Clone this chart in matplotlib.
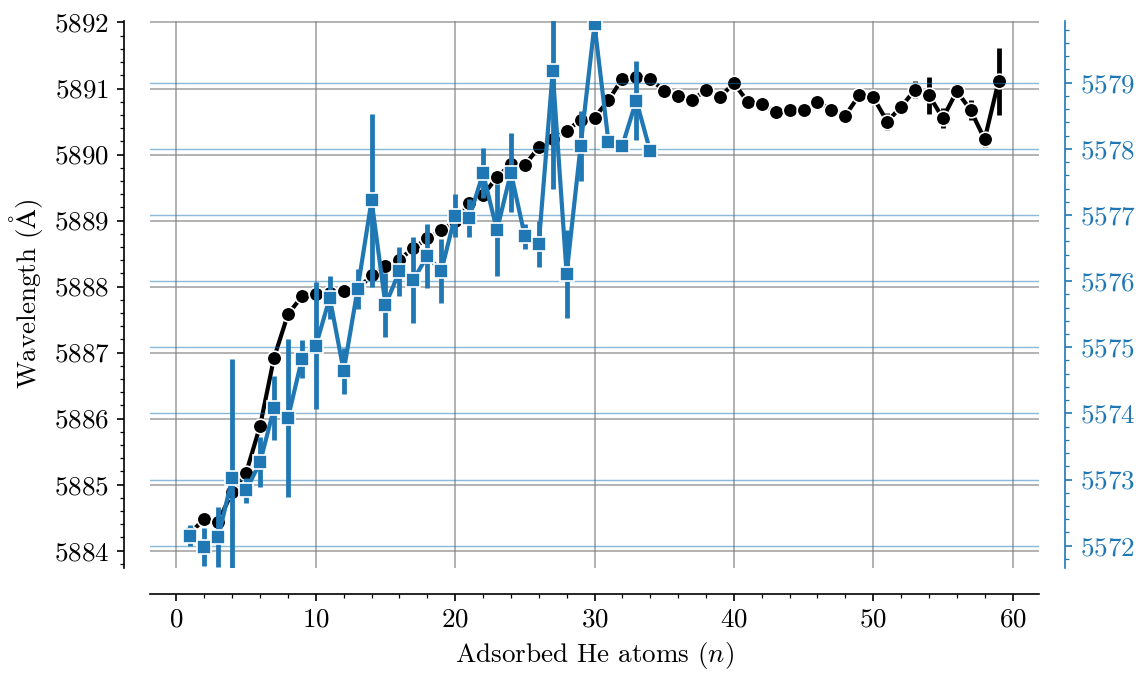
import matplotlib
matplotlib.use("Agg")
import matplotlib.pyplot as plt
from matplotlib.ticker import MultipleLocator, AutoMinorLocator
from matplotlib.mathtext import MathTextParser

plt.rcParams['font.family'] = 'serif'
plt.rcParams['font.serif'] = ['cmr10', 'DejaVu Serif']
plt.rcParams['mathtext.fontset'] = 'cm'
plt.rcParams['axes.formatter.use_mathtext'] = True
plt.rcParams['axes.unicode_minus'] = False

# black series (left axis)
n_black = list(range(1, 60))
wl_black = [5884.27, 5884.48, 5884.44, 5884.89, 5885.18, 5885.89, 5886.92, 5887.58, 5887.85, 5887.88,
            5887.90, 5887.93, 5887.96, 5888.17, 5888.31, 5888.41, 5888.58, 5888.73, 5888.85, 5889.00,
            5889.26, 5889.38, 5889.66, 5889.85, 5889.84, 5890.11, 5890.24, 5890.35, 5890.53, 5890.56,
            5890.82, 5891.15, 5891.17, 5891.15, 5890.96, 5890.88, 5890.82, 5890.98, 5890.87, 5891.08,
            5890.80, 5890.77, 5890.64, 5890.67, 5890.67, 5890.80, 5890.68, 5890.59, 5890.90, 5890.87,
            5890.50, 5890.72, 5890.98, 5890.90, 5890.55, 5890.96, 5890.67, 5890.23, 5891.11]
err_black = [0.06, 0.05, 0.05, 0.08, 0.06, 0.06, 0.08, 0.05, 0.04, 0.04,
             0.04, 0.04, 0.04, 0.04, 0.04, 0.04, 0.04, 0.04, 0.04, 0.04,
             0.04, 0.04, 0.04, 0.04, 0.04, 0.04, 0.04, 0.04, 0.04, 0.04,
             0.04, 0.04, 0.04, 0.04, 0.04, 0.04, 0.04, 0.04, 0.04, 0.04,
             0.04, 0.04, 0.04, 0.04, 0.04, 0.04, 0.04, 0.05, 0.04, 0.04,
             0.13, 0.11, 0.13, 0.28, 0.15, 0.08, 0.15, 0.12, 0.51]

# blue series (right axis)
n_blue = list(range(1, 35))
wl_blue = [5572.15, 5571.98, 5572.13, 5573.02, 5572.84, 5573.26, 5574.08, 5573.93, 5574.82, 5575.02,
           5575.75, 5574.64, 5575.88, 5577.22, 5575.64, 5576.15, 5576.02, 5576.38, 5576.15, 5576.99,
           5576.95, 5577.63, 5576.77, 5577.64, 5576.68, 5576.56, 5579.17, 5576.11, 5578.04, 5579.88,
           5578.11, 5578.05, 5578.73, 5577.96]
err_blue = [0.16, 0.29, 0.45, 1.80, 0.19, 0.38, 0.48, 1.19, 0.29, 0.96,
            0.33, 0.35, 0.30, 1.31, 0.48, 0.37, 0.65, 0.48, 0.48, 0.33,
            0.29, 0.38, 0.70, 0.60, 0.19, 0.35, 1.78, 0.67, 0.53, 0.15,
            0.05, 0.10, 0.60, 0.05]

blue = '#1f77b4'
fs = 13

# upright angstrom sign
angstrom = r'$\mathrm{\AA}$'
try:
    MathTextParser('agg').parse(angstrom, dpi=150)
except Exception:
    angstrom = r'$\mathring{\mathrm{A}}$'

fig = plt.figure(figsize=(7.6, 4.5), dpi=150)
ax = fig.add_axes([150 / 1140, 1 - 567.5 / 675, 889 / 1140, 547 / 675])
ax2 = ax.twinx()

ax.errorbar(n_black, wl_black, yerr=err_black, fmt='-o', color='k', lw=2, elinewidth=2.3,
            ms=7, mec='w', mew=0.8)
ax2.errorbar(n_blue, wl_blue, yerr=err_blue, fmt='-s', color=blue, lw=2, elinewidth=2.3,
             ms=7, mec='w', mew=0.8)

ax.set_xlim(-1.9, 61.9)
ax.set_ylim(5883.745, 5892.03)
ax2.set_ylim(5571.67, 5579.94)

ax.xaxis.set_major_locator(MultipleLocator(10))
ax.xaxis.set_minor_locator(MultipleLocator(2))
ax.yaxis.set_major_locator(MultipleLocator(1))
ax.yaxis.set_minor_locator(AutoMinorLocator(5))
ax2.yaxis.set_major_locator(MultipleLocator(1))
ax2.yaxis.set_minor_locator(AutoMinorLocator(5))

ax.grid(True, which='major', color='#808080', alpha=0.7, lw=0.8)
ax2.grid(True, axis='y', which='major', color=blue, alpha=0.5, lw=0.7)
ax.set_axisbelow(True)

for s in ['top', 'right']:
    ax.spines[s].set_visible(False)
for s in ['top', 'left', 'bottom']:
    ax2.spines[s].set_visible(False)
ax.spines['left'].set_position(('outward', 12.5))
ax.spines['bottom'].set_position(('outward', 12.5))
ax2.spines['right'].set_position(('outward', 12.5))
ax2.spines['right'].set_color(blue)

ax.tick_params(labelsize=fs)
ax2.tick_params(axis='y', which='both', colors=blue, labelsize=fs)

ax.set_xlabel(r'Adsorbed He atoms ($n$)', fontsize=fs)
ax.set_ylabel('Wavelength (' + angstrom + ')', fontsize=fs)

fig.savefig('out.png', dpi=150)
